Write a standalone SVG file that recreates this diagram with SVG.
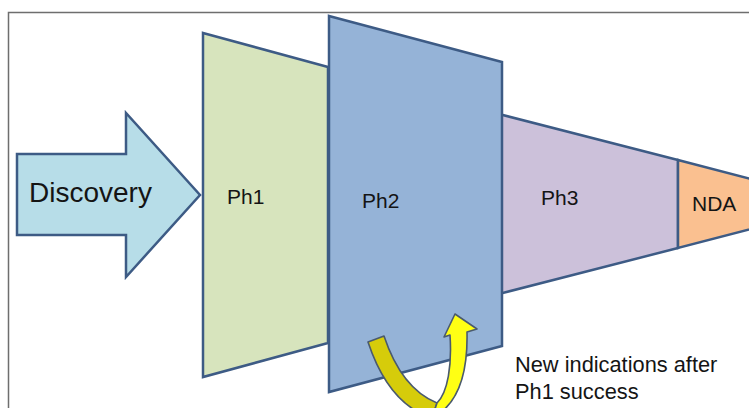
<svg xmlns="http://www.w3.org/2000/svg" width="749" height="408" viewBox="0 0 749 408">
  <style>
    .shape { stroke: #3d5b85; stroke-width: 2.5; stroke-linejoin: miter; }
    .label { font-family: "Liberation Sans", Arial, sans-serif; fill: #141414; }
    .curl { stroke: #4a5a6e; stroke-width: 1.6; stroke-linejoin: round; }
  </style>
  <rect x="0" y="0" width="749" height="408" fill="#ffffff"/>
  <!-- outer frame -->
  <rect x="8.5" y="12.5" width="760" height="420" fill="none" stroke="#6e6e6e" stroke-width="1.5"/>

  <g id="discovery">
    <polygon class="shape" points="17,154 126,154 126,113 200,195 126,277 126,235 17,235" fill="#b7dde8" stroke-width="2"/>
    <text class="label" x="29" y="202" font-size="28">Discovery</text>
  </g>

  <g id="ph1">
    <polygon class="shape" points="203,33 328,67 328,343 203,377" fill="#d7e4bd"/>
    <text class="label" x="227" y="204" font-size="21">Ph1</text>
  </g>

  <g id="ph3">
    <polygon class="shape" points="495,113 678,160 678,248 495,295" fill="#ccc1da"/>
    <text class="label" x="541" y="205" font-size="21">Ph3</text>
  </g>

  <g id="nda">
    <polygon class="shape" points="678,160 770,184 770,224 678,248" fill="#fac090"/>
    <text class="label" x="692" y="211" font-size="21">NDA</text>
  </g>

  <g id="ph2">
    <polygon class="shape" points="329,16 502,62 502,346 329,392" fill="#95b3d7"/>
    <text class="label" x="362" y="208" font-size="21">Ph2</text>
  </g>

  <g id="connectors">
    <!-- shaded left limb of the U-turn arrow, running off the bottom edge -->
    <path class="curl" fill="#d6cc0a" d="M368,342 L384,336 C394,366 410,392 437,403 L432,418 C400,408 380,378 368,342 Z"/>
    <!-- bright right limb with arrowhead -->
    <path class="curl" fill="#ffff14" d="M432,418 C458,405 468,375 467,332 L477,329 L455,314 L444,337 L450,335 C452,365 448,392 437,403 Z"/>
  </g>

  <g id="note">
    <text class="label" x="515" y="372" font-size="21.8">New indications after</text>
    <text class="label" x="515" y="399" font-size="21.8">Ph1 success</text>
  </g>
</svg>
